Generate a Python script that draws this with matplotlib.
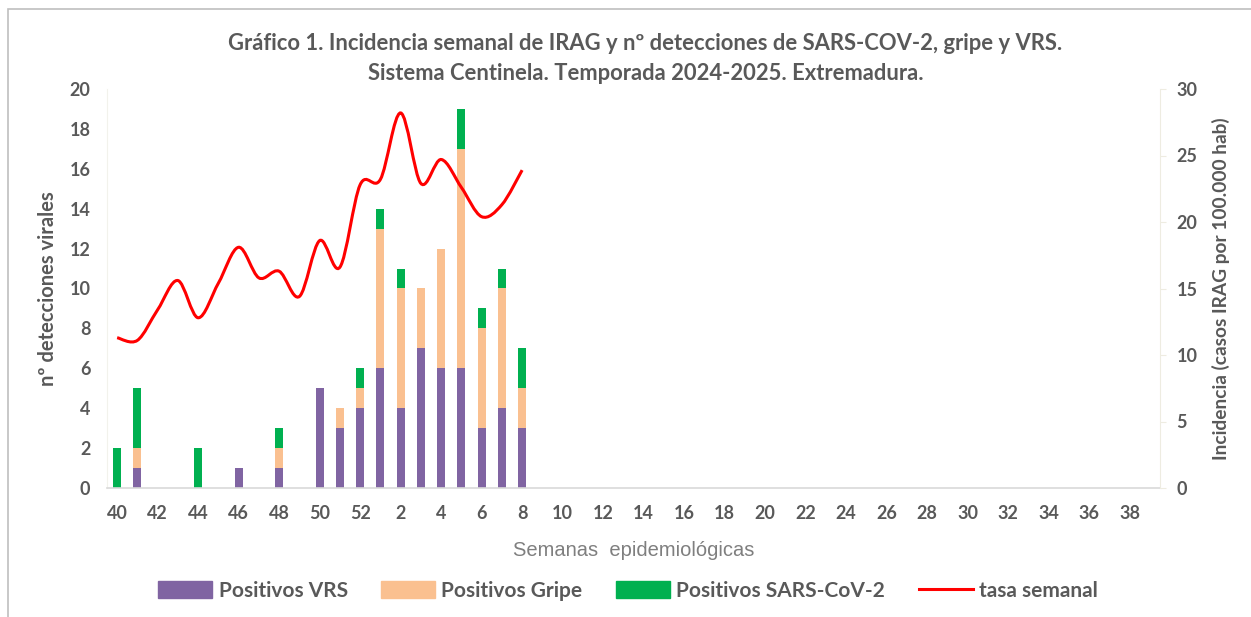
import matplotlib
matplotlib.use('Agg')
import matplotlib.pyplot as plt
from matplotlib.patches import Patch, PathPatch, Rectangle
from matplotlib.lines import Line2D
from matplotlib.path import Path

# Epidemiological weeks of the season (40..52, 1..39)
weeks = list(range(40, 53)) + list(range(1, 40))

# Weekly detections (weeks 40 to 8)
vrs = [0, 1, 0, 0, 0, 0, 1, 0, 1, 0, 5, 3, 4, 6, 4, 7, 6, 6, 3, 4, 3]
gripe = [0, 1, 0, 0, 0, 0, 0, 0, 1, 0, 0, 1, 1, 7, 6, 3, 6, 11, 5, 6, 2]
sars = [2, 3, 0, 0, 2, 0, 0, 0, 1, 0, 0, 0, 1, 1, 1, 0, 0, 2, 1, 1, 2]

# Weekly IRAG incidence (cases per 100.000 hab)
tasa = [11.3, 11.1, 13.4, 15.6, 12.8, 15.4, 18.1, 15.8, 16.3, 14.4, 18.6,
        16.6, 22.8, 23.2, 28.2, 22.9, 24.7, 22.6, 20.4, 21.3, 23.9]

GREY = '#595959'
C_VRS = '#8064A2'
C_GRIPE = '#FAC090'
C_SARS = '#00B050'
FONT = 'Lato'


def smooth_path(xs, ys):
    """Excel-like smoothed line as cubic Bezier segments."""
    verts = [(xs[0], ys[0])]
    codes = [Path.MOVETO]
    n = len(xs)
    for i in range(n - 1):
        x0, y0 = xs[max(i - 1, 0)], ys[max(i - 1, 0)]
        x1, y1 = xs[i], ys[i]
        x2, y2 = xs[i + 1], ys[i + 1]
        x3, y3 = xs[min(i + 2, n - 1)], ys[min(i + 2, n - 1)]
        c1 = (x1 + (x2 - x0) / 6, y1 + (y2 - y0) / 6)
        c2 = (x2 - (x3 - x1) / 6, y2 - (y3 - y1) / 6)
        verts += [c1, c2, (x2, y2)]
        codes += [Path.CURVE4] * 3
    return Path(verts, codes)


fig = plt.figure(figsize=(12.51, 6.17), dpi=100)
ax = fig.add_axes([107 / 1251, 1 - 488 / 617, (1160 - 107) / 1251, (488 - 89) / 617])
ax2 = ax.twinx()

# chart border
fig.patches.append(Rectangle((8 / 1251, -0.1), 1.2, 1 - 9 / 617 + 0.1, transform=fig.transFigure,
                             fill=False, edgecolor='#BFBFBF', linewidth=1.2))

idx = list(range(len(vrs)))
bottom2 = [a + b for a, b in zip(vrs, gripe)]
ax.bar(idx, vrs, width=0.4, color=C_VRS, zorder=2)
ax.bar(idx, gripe, width=0.4, bottom=vrs, color=C_GRIPE, zorder=2)
ax.bar(idx, sars, width=0.4, bottom=bottom2, color=C_SARS, zorder=2)

ax2.add_patch(PathPatch(smooth_path(idx, tasa), fill=False, edgecolor='#FF0000', linewidth=2.2))

ax.set_xlim(-0.5, len(weeks) - 0.5)
ax.set_ylim(0, 20)
ax2.set_ylim(0, 30)
ax.set_yticks(range(0, 21, 2))
ax2.set_yticks(range(0, 31, 5))
ax.set_xticks(range(0, len(weeks), 2))
ax.set_xticklabels([str(w) for w in weeks[::2]])

for a in (ax, ax2):
    for s in a.spines.values():
        s.set_visible(False)
ax.spines['bottom'].set_visible(True)
ax.spines['bottom'].set_color('#D9D9D9')
ax.spines['bottom'].set_linewidth(1.2)
ax.spines['left'].set_visible(True)
ax.spines['left'].set_color('#F2F2EC')
ax2.spines['right'].set_visible(True)
ax2.spines['right'].set_color('#EEECE1')

ax.tick_params(axis='x', length=0, pad=12, labelsize=13, labelcolor=GREY)
ax.tick_params(axis='y', length=0, pad=12, labelsize=13, labelcolor=GREY)
ax2.tick_params(axis='y', length=4, color='#EEECE1', pad=8, labelsize=13, labelcolor=GREY)
for lbl in ax.get_xticklabels() + ax.get_yticklabels() + ax2.get_yticklabels():
    lbl.set_fontweight('bold')
    lbl.set_fontfamily(FONT)

ax.set_ylabel('nº detecciones virales', fontsize=14.5, fontweight='bold', color=GREY,
              family=FONT, labelpad=8)
ax2.set_ylabel('Incidencia (casos IRAG por 100.000 hab)', fontsize=13.8, fontweight='bold',
               color=GREY, family=FONT, labelpad=10)
ax.set_xlabel('Semanas  epidemiológicas', fontsize=14.5, color='#7F7F7F',
              family='Liberation Sans', labelpad=14)

fig.text(0.516, 1 - 44 / 617, 'Gráfico 1. Incidencia semanal de IRAG y nº detecciones de SARS-COV-2, gripe y VRS.',
         ha='center', va='center', fontsize=15.8, fontweight='bold', color=GREY, family=FONT)
fig.text(0.516, 1 - 73 / 617, 'Sistema Centinela. Temporada 2024-2025. Extremadura.',
         ha='center', va='center', fontsize=15.8, fontweight='bold', color=GREY, family=FONT)

handles = [Patch(color=C_VRS, label='Positivos VRS'),
           Patch(color=C_GRIPE, label='Positivos Gripe'),
           Patch(color=C_SARS, label='Positivos SARS-CoV-2'),
           Line2D([], [], color='#FF0000', linewidth=2.2, label='tasa semanal')]
leg = fig.legend(handles=handles, loc='center', bbox_to_anchor=(0.502, 1 - 591 / 617), ncol=4,
                 frameon=False, prop={'family': FONT, 'weight': 'bold', 'size': 15},
                 handlelength=2.6, handleheight=0.9, handletextpad=0.3, columnspacing=1.6)
for t in leg.get_texts():
    t.set_color(GREY)

fig.savefig('out.png', dpi=100)
